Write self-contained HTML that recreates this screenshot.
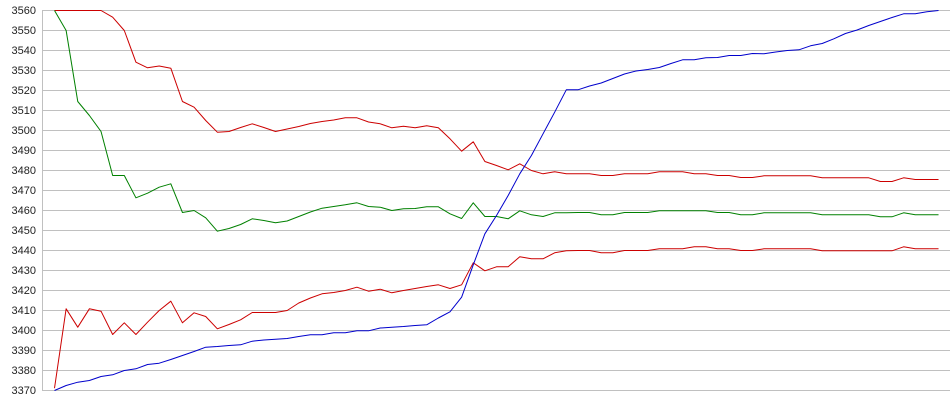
<!DOCTYPE html>
<html>
<head>
<meta charset="utf-8">
<style>
html,body{margin:0;padding:0;background:#fff;}
svg{display:block;}
text{font-family:"Liberation Sans",Arial,sans-serif;font-size:11px;fill:#222;}
</style>
</head>
<body>
<svg width="950" height="415" viewBox="0 0 950 415" xmlns="http://www.w3.org/2000/svg">
<g stroke="#c0c0c0" stroke-width="1" shape-rendering="crispEdges">
<line x1="42" y1="10.5" x2="950" y2="10.5"/>
<line x1="42" y1="30.5" x2="950" y2="30.5"/>
<line x1="42" y1="50.5" x2="950" y2="50.5"/>
<line x1="42" y1="70.5" x2="950" y2="70.5"/>
<line x1="42" y1="90.5" x2="950" y2="90.5"/>
<line x1="42" y1="110.5" x2="950" y2="110.5"/>
<line x1="42" y1="130.5" x2="950" y2="130.5"/>
<line x1="42" y1="150.5" x2="950" y2="150.5"/>
<line x1="42" y1="170.5" x2="950" y2="170.5"/>
<line x1="42" y1="190.5" x2="950" y2="190.5"/>
<line x1="42" y1="210.5" x2="950" y2="210.5"/>
<line x1="42" y1="230.5" x2="950" y2="230.5"/>
<line x1="42" y1="250.5" x2="950" y2="250.5"/>
<line x1="42" y1="270.5" x2="950" y2="270.5"/>
<line x1="42" y1="290.5" x2="950" y2="290.5"/>
<line x1="42" y1="310.5" x2="950" y2="310.5"/>
<line x1="42" y1="330.5" x2="950" y2="330.5"/>
<line x1="42" y1="350.5" x2="950" y2="350.5"/>
<line x1="42" y1="370.5" x2="950" y2="370.5"/>
<line x1="42" y1="390.5" x2="950" y2="390.5"/>
<line x1="42.5" y1="10" x2="42.5" y2="391"/>
</g>
<g text-anchor="end">
<text x="36" y="14">3560</text>
<text x="36" y="34">3550</text>
<text x="36" y="54">3540</text>
<text x="36" y="74">3530</text>
<text x="36" y="94">3520</text>
<text x="36" y="114">3510</text>
<text x="36" y="134">3500</text>
<text x="36" y="154">3490</text>
<text x="36" y="174">3480</text>
<text x="36" y="194">3470</text>
<text x="36" y="214">3460</text>
<text x="36" y="234">3450</text>
<text x="36" y="254">3440</text>
<text x="36" y="274">3430</text>
<text x="36" y="294">3420</text>
<text x="36" y="314">3410</text>
<text x="36" y="334">3400</text>
<text x="36" y="354">3390</text>
<text x="36" y="374">3380</text>
<text x="36" y="394">3370</text>
</g>
<g transform="translate(54.5,0.5) scale(11.632,1)" fill="none" stroke-width="1" stroke-linejoin="round">
<polyline vector-effect="non-scaling-stroke" stroke="#cc0000" points="0,10 1,10 2,10 3,10 4,10 5,16.7 6,30 7,61.7 8,67.3 9,65.5 10,67.7 11,101 12,106.7 13,120 14,131.7 15,131 16,127 17,123.3 18,127 19,131 20,128.5 21,126 22,123 23,121 24,119.5 25,117.3 26,117.3 27,121.5 28,123.3 29,127.3 30,125.7 31,127.3 32,125.3 33,127.3 34,138.3 35,150.7 36,141.3 37,161 38,165 39,169.3 40,163.3 41,170 42,173.3 43,171.3 44,173.3 45,173.3 46,173.3 47,175 48,175 49,173.3 50,173.3 51,173.3 52,171.3 53,171.3 54,171.3 55,173.3 56,173.3 57,175 58,175 59,177 60,177 61,175.3 62,175.3 63,175.3 64,175.3 65,175.3 66,177.3 67,177.3 68,177.3 69,177.3 70,177.3 71,181 72,181 73,177.3 74,179 75,179 76,179"/>
<polyline vector-effect="non-scaling-stroke" stroke="#008000" points="0,10 1,30 2,101 3,115 4,131 5,175 6,175 7,197.3 8,192.7 9,186.7 10,183.3 11,212 12,210 13,217.3 14,230.7 15,228 16,224 17,218.3 18,220 19,222.3 20,220.5 21,216 22,211.5 23,207.7 24,206 25,204.3 26,202.3 27,206 28,206.7 29,210 30,208.3 31,208 32,206.3 33,206.3 34,213.3 35,218 36,202.3 37,216 38,216 39,218.3 40,210.3 41,214.3 42,216 43,212.3 44,212.3 45,212 46,212 47,214.3 48,214.3 49,212 50,212 51,212 52,210.3 53,210.3 54,210.3 55,210.3 56,210.3 57,212 58,212 59,214.3 60,214.3 61,212.3 62,212.3 63,212.3 64,212.3 65,212.3 66,214.3 67,214.3 68,214.3 69,214.3 70,214.3 71,216.3 72,216.3 73,212.3 74,214.3 75,214.3 76,214.3"/>
<polyline vector-effect="non-scaling-stroke" stroke="#cc0000" points="0,387.7 1,308.3 2,326.7 3,308.3 4,310.7 5,334 6,322.3 7,334 8,321.7 9,310 10,300.7 11,322.3 12,312.3 13,316 14,328.3 15,324 16,319.3 17,312 18,312 19,312 20,310 21,302.5 22,297.5 23,293.3 24,292 25,290 26,286.7 27,290.7 28,288.7 29,292.3 30,290 31,288 32,286 33,284.3 34,288 35,284.3 36,262.3 37,270.3 38,266.3 39,266.3 40,256.3 41,258.3 42,258.3 43,252.3 44,250.3 45,250 46,250 47,252.3 48,252.3 49,250 50,250 51,250 52,248.3 53,248.3 54,248.3 55,246.3 56,246.3 57,248.3 58,248.3 59,250 60,250 61,248.3 62,248.3 63,248.3 64,248.3 65,248.3 66,250.3 67,250.3 68,250.3 69,250.3 70,250.3 71,250.3 72,250.3 73,246.3 74,248.3 75,248.3 76,248.3"/>
<polyline vector-effect="non-scaling-stroke" stroke="#0000cc" points="0,390 1,385 2,381.7 3,380 4,376 5,374.3 6,370 7,368.3 8,364 9,362.7 10,359 11,355 12,351 13,346.7 14,346 15,345 16,344.3 17,340.7 18,339.5 19,338.7 20,338 21,336 22,334.3 23,334.3 24,332.3 25,332.3 26,330.3 27,330.3 28,327.5 29,326.7 30,326 31,325 32,324.3 33,317.5 34,311.3 35,296.7 36,264.3 37,233.3 38,215 39,195 40,173.3 41,155 42,133.3 43,111.7 44,89.3 45,89.3 46,85.5 47,82.5 48,78 49,73.5 50,70.5 51,69 52,67 53,63 54,59.3 55,59.3 56,57.3 57,57 58,55 59,55 60,53 61,53.3 62,51.5 63,50 64,49.3 65,45.3 66,43 67,38.3 68,33 69,29.5 70,25 71,21 72,17 73,13.3 74,13.3 75,11.3 76,10"/>
</g>
</svg>
</body>
</html>
